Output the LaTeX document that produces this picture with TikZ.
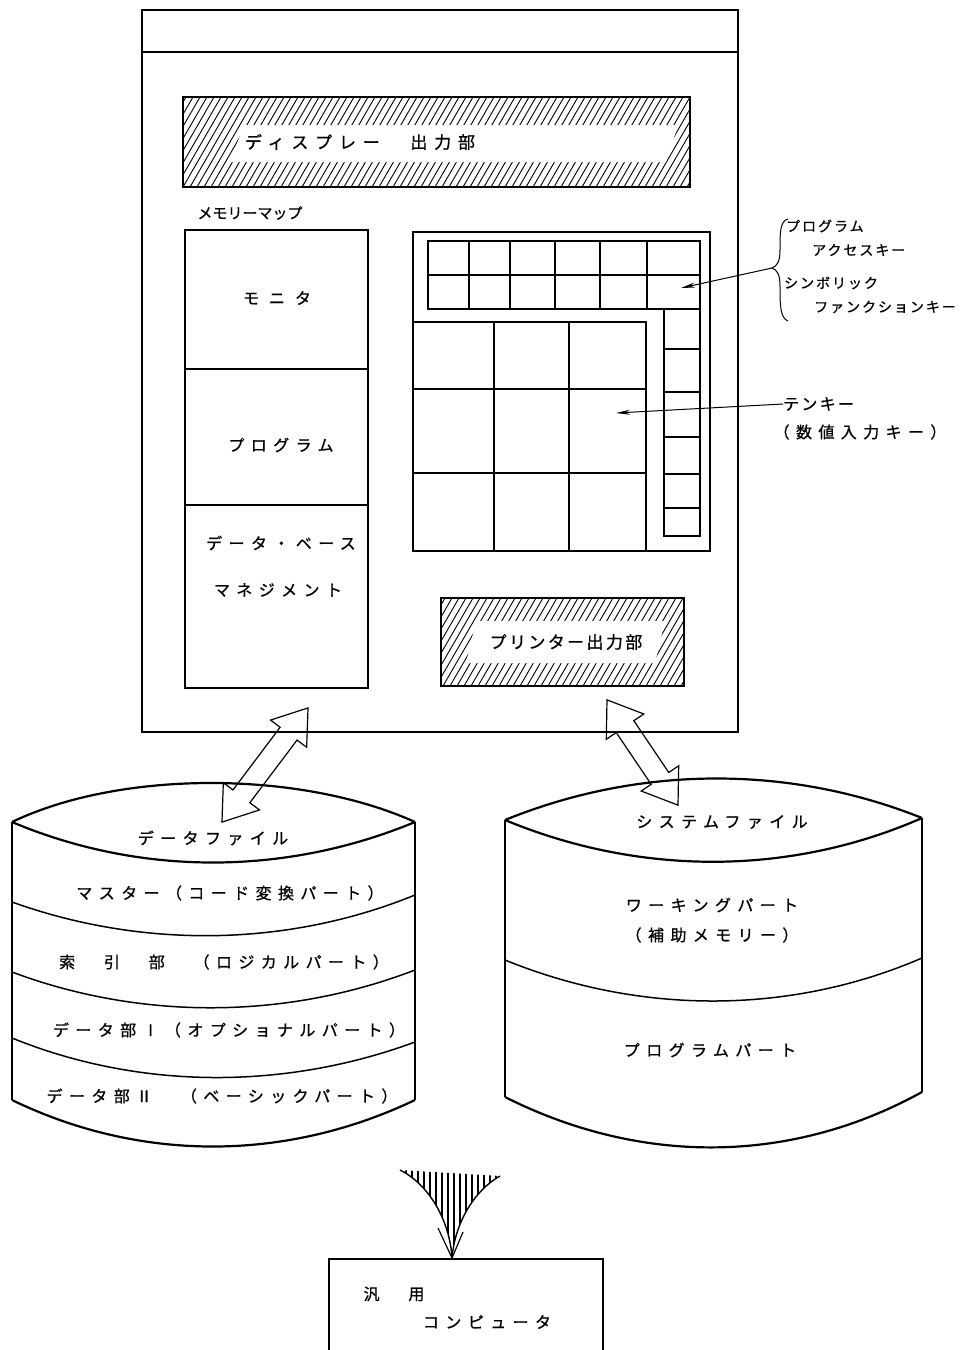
\documentclass[tikz,border=0pt]{standalone}
\usepackage{fontspec}
\setmainfont[FakeBold=0.8]{Noto Sans CJK JP}
\newfontfamily\jpwide[LetterSpace=40,FakeBold=0.8]{Noto Sans CJK JP}
\newfontfamily\jpmid[LetterSpace=14,FakeBold=0.8]{Noto Sans CJK JP}
\usetikzlibrary{shapes.arrows,arrows.meta,calc}

\begin{document}
\begin{tikzpicture}[x=1pt,y=1pt,yscale=-1,xscale=1,
  txt/.style={inner sep=0, font=\jpwide\fontsize{16}{18}\selectfont},
  tighttxt/.style={inner sep=0, font=\fontsize{15}{18}\selectfont},
  note/.style={inner sep=0, anchor=west, font=\jpmid\fontsize{14}{16}\selectfont},
  heavy/.style={line width=2.2pt},
  keyline/.style={line width=1.5pt},
  hatchline/.style={line width=0.9pt},
  hollow/.style={double arrow, draw, line width=1.2pt, inner sep=10pt,
    double arrow head extend=12pt, double arrow tip angle=70},
  ptr/.style={line width=1pt, -{Stealth[length=14pt,width=5pt]}}]
\useasboundingbox (0,0) rectangle (966,1350);

%Shape: Rectangle [id:mainbox]
\draw [line width=1.3pt] (142,10) rectangle (738,732);
\draw [line width=1.3pt] (142,52) -- (738,52);

%Shape: Hatched box [id:display]
\begin{scope}
\clip (183,97) rectangle (690,187);
\foreach \x in {120,127,...,700} \draw [hatchline] (\x,187) -- ++(52,-90);
\end{scope}
\fill [white] (244,125) -- (678,125) -- (666,162) -- (230,162) -- cycle;
\draw [heavy] (183,97) rectangle (690,187);
% Text Node
\node [txt, font=\jpwide\fontsize{17}{18}\selectfont] (disp) at (360,142) {ディスプレー　出力部};

% Text Node
\node [tighttxt] (memlbl) at (250,213) {メモリーマップ};
%Shape: Rectangle [id:memmap]
\draw [heavy] (185,230) rectangle (368,688);
\draw [keyline] (185,369) -- (368,369);
\draw [keyline] (185,505) -- (368,505);
% Text Node
\node [txt] (mon) at (277,298) {モ ニ タ};
\node [txt] (prg) at (281,445) {プログラム};
\node [txt] (dbs) at (281,543) {データ・ベース};
\node [txt] (mgt) at (278,590) {マネジメント};

%Shape: Keyboard [id:keypad]
\draw [heavy] (413,232) rectangle (710,551);
\draw [keyline] (428,241) rectangle (700,309);
\draw [keyline] (428,275) -- (700,275);
\foreach \x in {469,510,555,600,647} \draw [keyline] (\x,241) -- (\x,309);
\draw [keyline] (664,309) rectangle (700,536);
\foreach \y in {349,392,437,474,508} \draw [keyline] (664,\y) -- (700,\y);
\draw [keyline] (413,322) rectangle (646,551);
\foreach \x in {494,569} \draw [keyline] (\x,322) -- (\x,551);
\foreach \y in {389,473} \draw [keyline] (413,\y) -- (646,\y);

% Text Node
\node [note] (pgacc1) at (786,226) {プログラム};
\node [note] (pgacc2) at (812,250) {アクセスキー};
\node [note] (symfn1) at (784,283) {シンボリック};
\node [note] (symfn2) at (814,307) {ファンクションキー};
%Shape: Brace
\draw [line width=1pt] (788,219) .. controls (780,221) and (780,232) .. (780,250) .. controls (780,262) and (777,266) .. (772,268) .. controls (777,270) and (780,274) .. (780,286) .. controls (780,304) and (780,318) .. (788,321);
\coordinate (brcTip) at (772,268);
\coordinate (fnKey) at (681,288);
\draw [ptr] (brcTip) -- (fnKey);

% Text Node
\node [note, font=\jpmid\fontsize{16}{18}\selectfont] (tenlbl) at (783,404) {テンキー};
\node [txt] (tenlbl2) at (860,432) {（数値入力キー）};
\coordinate (tenKey) at (616,413);
\draw [ptr] (tenlbl.west) -- (tenKey);

%Shape: Hatched box [id:printer]
\begin{scope}
\clip (441,598) rectangle (684,686);
\foreach \x in {380,387,...,690} \draw [hatchline] (\x,686) -- ++(51,-88);
\end{scope}
\fill [white] (476,621) -- (665,621) -- (655,663) -- (466,663) -- cycle;
\draw [heavy] (441,598) rectangle (684,686);
% Text Node
\node [tighttxt, font=\jpmid\fontsize{17}{18}\selectfont] (prn) at (566,642) {プリンター出力部};

%Shape: Cylinder [id:datafile]
\draw [heavy] (12,822) .. controls (120,770) and (300,770) .. (415,822);
\draw [heavy] (12,822) .. controls (140,876) and (285,876) .. (415,822);
\draw [heavy] (12,822) -- (12,1100);
\draw [heavy] (415,822) -- (415,1100);
\draw [keyline] (12,902) .. controls (140,948) and (285,948) .. (415,895);
\draw [keyline] (12,972) .. controls (140,1020) and (285,1020) .. (415,970);
\draw [keyline] (12,1038) .. controls (140,1090) and (285,1090) .. (415,1042);
\draw [heavy] (12,1100) .. controls (140,1162) and (285,1162) .. (415,1100);
% Text Node
\node [txt] (dfile) at (213,838) {データファイル};
\node [txt] (dmast) at (230,893) {マスター（コード変換パート）};
\node [txt] (dindx) at (224,962) {索　引　部　（ロジカルパート）};
\node [txt] (dopt) at (229,1030) {データ部Ⅰ（オプショナルパート）};
\node [txt] (dbas) at (222,1096) {データ部Ⅱ　（ベーシックパート）};

%Shape: Cylinder [id:sysfile]
\draw [heavy] (505,820) .. controls (640,765) and (790,765) .. (922,818);
\draw [heavy] (505,820) .. controls (640,876) and (790,876) .. (922,818);
\draw [heavy] (505,820) -- (505,1097);
\draw [heavy] (922,818) -- (922,1092);
\draw [keyline] (505,960) .. controls (640,1015) and (790,1015) .. (922,958);
\draw [heavy] (505,1097) .. controls (640,1165) and (790,1165) .. (922,1092);
% Text Node
\node [txt] (sfile) at (722,822) {システムファイル};
\node [txt] (swork) at (712,905) {ワーキングパート};
\node [txt] (saux) at (712,935) {（補助メモリー）};
\node [txt] (sprog) at (710,1050) {プログラムパート};

%Shape: Double Arrow [id:hollow]
\coordinate (mbL) at (308,708);
\coordinate (dfTop) at (222,822);
\coordinate (mbR) at (607,700);
\coordinate (sfTop) at (678,805);
\node [hollow, minimum height=143pt, rotate=53] (arrL) at ($(mbL)!0.5!(dfTop)$) {};
\node [hollow, minimum height=127pt, rotate=-56] (arrR) at ($(mbR)!0.5!(sfTop)$) {};

%Shape: Funnel [id:funnel]
\coordinate (fnlL) at (400,1170);
\coordinate (fnlR) at (500,1176);
\coordinate (pcTop) at (452,1258);
\begin{scope}
\clip (fnlL) .. controls (430,1185) and (450,1222) .. (pcTop) .. controls (455,1222) and (475,1190) .. (fnlR) -- cycle;
\foreach \x in {406,412,...,500} \draw [line width=1.2pt] (\x,1165) -- (\x,1260);
\end{scope}
\draw [line width=1.4pt] (fnlL) .. controls (430,1185) and (450,1222) .. (pcTop);
\draw [line width=1.4pt] (fnlR) .. controls (475,1190) and (455,1222) .. (pcTop);
\draw [line width=1.2pt] (438,1228) -- (pcTop) -- (463,1232);

%Shape: Rectangle [id:computer]
\node [draw, heavy, inner sep=0, minimum width=274pt, minimum height=92pt, anchor=north west] (pc) at (328,1258) {};
% Text Node
\node [txt] (pc1) at (394,1294) {汎　用};
\node [txt] (pc2) at (487,1322) {コンピュータ};

\end{tikzpicture}
\end{document}
